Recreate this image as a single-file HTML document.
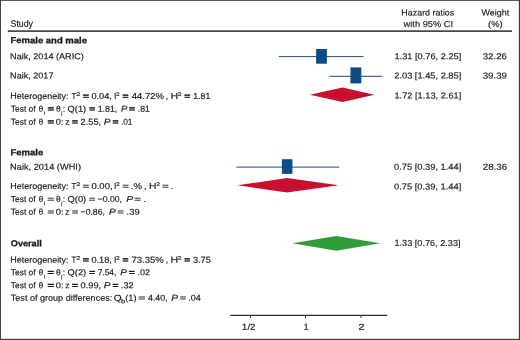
<!DOCTYPE html>
<html>
<head>
<meta charset="utf-8">
<title>Forest plot</title>
<style>
html,body{margin:0;padding:0;background:#fff;}
body{width:520px;height:340px;overflow:hidden;}
svg{display:block;will-change:transform;}
text{font-family:"Liberation Sans",sans-serif;font-size:8.6px;fill:#1a1a1a;stroke:#1a1a1a;stroke-width:0.16px;}
.b{font-weight:bold;stroke-width:0.3px;}
g[id^="g1"] .eq,g[id^="g3"] .eq{stroke-width:0.6px;}
#g3d .eq{stroke-width:0.16px;}
.subb{font-size:6px;}
.hs{font-size:9.3px;}
.i{font-style:italic;}
.sup{font-size:5.3px;}
.sub{font-size:5px;}
</style>
</head>
<body>
<svg width="520" height="340" viewBox="0 0 520 340">
  <rect x="0" y="0" width="520" height="340" fill="#ffffff"/>
  <!-- outer frame -->
  <g fill="#3c3c3c">
    <rect x="0" y="0" width="520" height="0.85"/>
    <rect x="0" y="338.85" width="520" height="1.15"/>
    <rect x="0" y="0" width="0.95" height="340"/>
    <rect x="518.85" y="0" width="1.15" height="340"/>
  </g>
  <!-- header rule -->
  <line x1="7.8" y1="31.15" x2="512" y2="31.15" stroke="#484848" stroke-width="1.6"/>
  <!-- plot: CI lines -->
  <g stroke="#30557f" stroke-width="1">
    <line x1="278.75" y1="56.6" x2="363.6" y2="56.6" stroke="#2c4a72"/>
    <line x1="329.5" y1="76.3" x2="382.25" y2="76.3" stroke="#456a96" stroke-width="1.25"/>
    <line x1="236.25" y1="167.2" x2="339.25" y2="167.2" stroke="#4d6f98" stroke-width="1.3"/>
  </g>
  <!-- plot: squares -->
  <g fill="#0e4c88">
    <rect x="316.1" y="49" width="10.8" height="14.7"/>
    <rect x="350.4" y="67.4" width="10.9" height="16"/>
    <rect x="281.9" y="159.2" width="10.5" height="14.7"/>
  </g>
  <!-- plot: diamonds -->
  <polygon points="309.9,94.8 342.5,87.5 374.4,94.8 342.5,102.1" fill="#c8102e"/>
  <polygon points="237.6,185.3 287,178 338.5,185.3 287,192.6" fill="#c8102e"/>
  <polygon points="292.3,243.35 336.25,236 380.1,243.35 336.25,250.75" fill="#2f9e3a"/>
  <!-- axis -->
  <g stroke="#2e2e2e" fill="none">
    <line x1="230.4" y1="315.3" x2="387.2" y2="315.3" stroke-width="1.3"/>
    <line x1="250.6" y1="315.3" x2="250.6" y2="318" stroke-width="1"/>
    <line x1="305.5" y1="315.3" x2="305.5" y2="318" stroke-width="1"/>
    <line x1="361" y1="315.3" x2="361" y2="318" stroke-width="1"/>
  </g>
  <!-- text -->
  <g id="h_study">
    <text id="h_study_0" class="hs" x="10.54" y="26.7" textLength="22.46" lengthAdjust="spacingAndGlyphs" transform="rotate(0.04 21.8 26.7)">Study</text>
  </g>
  <g id="h_hr1">
    <text id="h_hr1_0" x="401.39" y="15.6" textLength="52.87" lengthAdjust="spacingAndGlyphs" transform="rotate(0.04 427.8 15.6)">Hazard ratios</text>
  </g>
  <g id="h_hr2">
    <text id="h_hr2_0" x="403.60" y="26.9" textLength="49.52" lengthAdjust="spacingAndGlyphs" transform="rotate(0.04 428.4 26.9)">with 95% CI</text>
  </g>
  <g id="h_w1">
    <text id="h_w1_0" x="481.50" y="15.6" textLength="27.70" lengthAdjust="spacingAndGlyphs" transform="rotate(0.04 495.4 15.6)">Weight</text>
  </g>
  <g id="h_w2">
    <text id="h_w2_0" x="488.11" y="26.9" textLength="14.57" lengthAdjust="spacingAndGlyphs" transform="rotate(0.04 495.4 26.9)">(%)</text>
  </g>
  <g id="g1">
    <text id="g1_0" class="b" x="10.49" y="43.15" textLength="76.51" lengthAdjust="spacingAndGlyphs" transform="rotate(0.04 48.7 43.15)">Female and male</text>
  </g>
  <g id="s1">
    <text id="s1_0" x="10.09" y="59.25" textLength="73.72" lengthAdjust="spacingAndGlyphs" transform="rotate(0.04 46.9 59.25)">Naik, 2014 (ARIC)</text>
  </g>
  <g id="s2">
    <text id="s2_0" x="10.08" y="78.5" textLength="43.38" lengthAdjust="spacingAndGlyphs" transform="rotate(0.04 31.8 78.5)">Naik, 2017</text>
  </g>
  <g id="g1h">
    <text id="g1h_0" x="10.28" y="98.9" textLength="58.34" lengthAdjust="spacingAndGlyphs" transform="rotate(0.04 39.5 98.9)">Heterogeneity:</text>
    <text id="g1h_1" x="71.50" y="98.9" textLength="4.74" lengthAdjust="spacingAndGlyphs" transform="rotate(0.04 73.9 98.9)">T</text>
    <text id="g1h_2" class="sup" x="76.20" y="96.0" textLength="4.00" lengthAdjust="spacingAndGlyphs" transform="rotate(0.04 78.2 96.0)">2</text>
    <text id="g1h_3" class="eq" x="82.86" y="98.9" textLength="6.29" lengthAdjust="spacingAndGlyphs" transform="rotate(0.04 86.0 98.9)">=</text>
    <text id="g1h_4" x="91.43" y="98.9" textLength="20.51" lengthAdjust="spacingAndGlyphs" transform="rotate(0.04 101.7 98.9)">0.04,</text>
    <text id="g1h_5" x="113.90" y="98.9" transform="rotate(0.04 115.4 98.9)">I</text>
    <text id="g1h_6" class="sup" x="116.08" y="96.0" textLength="3.66" lengthAdjust="spacingAndGlyphs" transform="rotate(0.04 117.9 96.0)">2</text>
    <text id="g1h_7" class="eq" x="122.58" y="98.9" textLength="6.01" lengthAdjust="spacingAndGlyphs" transform="rotate(0.04 125.6 98.9)">=</text>
    <text id="g1h_8" x="131.80" y="98.9" textLength="32.16" lengthAdjust="spacingAndGlyphs" transform="rotate(0.04 147.9 98.9)">44.72%</text>
    <text id="g1h_9" x="165.75" y="98.9" transform="rotate(0.04 167.2 98.9)">,</text>
    <text id="g1h_10" x="170.51" y="98.9" textLength="7.71" lengthAdjust="spacingAndGlyphs" transform="rotate(0.04 174.4 98.9)">H</text>
    <text id="g1h_11" class="sup" x="177.71" y="96.0" textLength="3.76" lengthAdjust="spacingAndGlyphs" transform="rotate(0.04 179.6 96.0)">2</text>
    <text id="g1h_12" class="eq" x="184.27" y="98.9" textLength="6.00" lengthAdjust="spacingAndGlyphs" transform="rotate(0.04 187.3 98.9)">=</text>
    <text id="g1h_13" x="193.32" y="98.9" textLength="16.94" lengthAdjust="spacingAndGlyphs" transform="rotate(0.04 201.8 98.9)">1.81</text>
  </g>
  <g id="g1q">
    <text id="g1q_0" x="10.79" y="111.65" textLength="24.81" lengthAdjust="spacingAndGlyphs" transform="rotate(0.04 23.2 111.65)">Test of</text>
    <text id="g1q_1" x="38.85" y="111.65" textLength="4.43" lengthAdjust="spacingAndGlyphs" transform="rotate(0.04 41.1 111.65)">θ</text>
    <text id="g1q_2" class="sub" x="43.80" y="114.85" transform="rotate(0.04 45.3 114.85)">i</text>
    <text id="g1q_3" class="eq" x="47.53" y="111.65" textLength="6.58" lengthAdjust="spacingAndGlyphs" transform="rotate(0.04 50.8 111.65)">=</text>
    <text id="g1q_4" x="55.96" y="111.65" textLength="4.67" lengthAdjust="spacingAndGlyphs" transform="rotate(0.04 58.3 111.65)">θ</text>
    <text id="g1q_5" class="sub" x="61.20" y="114.85" transform="rotate(0.04 62.7 114.85)">j</text>
    <text id="g1q_6" x="62.75" y="111.65" transform="rotate(0.04 64.2 111.65)">:</text>
    <text id="g1q_7" x="67.58" y="111.65" textLength="18.64" lengthAdjust="spacingAndGlyphs" transform="rotate(0.04 76.9 111.65)">Q(1)</text>
    <text id="g1q_8" class="eq" x="89.27" y="111.65" textLength="6.00" lengthAdjust="spacingAndGlyphs" transform="rotate(0.04 92.3 111.65)">=</text>
    <text id="g1q_9" x="97.65" y="111.65" textLength="19.65" lengthAdjust="spacingAndGlyphs" transform="rotate(0.04 107.5 111.65)">1.81,</text>
    <text id="g1q_10" class="i" x="121.11" y="111.65" textLength="6.25" lengthAdjust="spacingAndGlyphs" transform="rotate(0.04 124.2 111.65)">P</text>
    <text id="g1q_11" class="eq" x="129.08" y="111.65" textLength="6.01" lengthAdjust="spacingAndGlyphs" transform="rotate(0.04 132.1 111.65)">=</text>
    <text id="g1q_12" x="137.74" y="111.65" textLength="12.25" lengthAdjust="spacingAndGlyphs" transform="rotate(0.04 143.9 111.65)">.81</text>
  </g>
  <g id="g1z">
    <text id="g1z_0" x="10.79" y="124.7" textLength="24.81" lengthAdjust="spacingAndGlyphs" transform="rotate(0.04 23.2 124.7)">Test of</text>
    <text id="g1z_1" x="38.85" y="124.7" textLength="4.43" lengthAdjust="spacingAndGlyphs" transform="rotate(0.04 41.1 124.7)">θ</text>
    <text id="g1z_2" class="eq" x="47.53" y="124.7" textLength="6.58" lengthAdjust="spacingAndGlyphs" transform="rotate(0.04 50.8 124.7)">=</text>
    <text id="g1z_3" x="55.85" y="124.7" textLength="7.78" lengthAdjust="spacingAndGlyphs" transform="rotate(0.04 59.7 124.7)">0:</text>
    <text id="g1z_4" x="65.24" y="124.7" textLength="4.28" lengthAdjust="spacingAndGlyphs" transform="rotate(0.04 67.4 124.7)">z</text>
    <text id="g1z_5" class="eq" x="72.08" y="124.7" textLength="6.01" lengthAdjust="spacingAndGlyphs" transform="rotate(0.04 75.1 124.7)">=</text>
    <text id="g1z_6" x="80.57" y="124.7" textLength="20.52" lengthAdjust="spacingAndGlyphs" transform="rotate(0.04 90.8 124.7)">2.55,</text>
    <text id="g1z_7" class="i" x="103.88" y="124.7" textLength="6.80" lengthAdjust="spacingAndGlyphs" transform="rotate(0.04 107.3 124.7)">P</text>
    <text id="g1z_8" class="eq" x="112.58" y="124.7" textLength="6.01" lengthAdjust="spacingAndGlyphs" transform="rotate(0.04 115.6 124.7)">=</text>
    <text id="g1z_9" x="120.88" y="124.7" textLength="11.54" lengthAdjust="spacingAndGlyphs" transform="rotate(0.04 126.7 124.7)">.01</text>
  </g>
  <g id="g2">
    <text id="g2_0" class="b" x="10.49" y="155.3" textLength="32.77" lengthAdjust="spacingAndGlyphs" transform="rotate(0.04 26.9 155.3)">Female</text>
  </g>
  <g id="s3">
    <text id="s3_0" x="10.09" y="169.75" textLength="70.92" lengthAdjust="spacingAndGlyphs" transform="rotate(0.04 45.5 169.75)">Naik, 2014 (WHI)</text>
  </g>
  <g id="g2h">
    <text id="g2h_0" x="10.28" y="189.0" textLength="58.34" lengthAdjust="spacingAndGlyphs" transform="rotate(0.04 39.5 189.0)">Heterogeneity:</text>
    <text id="g2h_1" x="71.50" y="189.0" textLength="4.74" lengthAdjust="spacingAndGlyphs" transform="rotate(0.04 73.9 189.0)">T</text>
    <text id="g2h_2" class="sup" x="76.20" y="186.1" textLength="4.00" lengthAdjust="spacingAndGlyphs" transform="rotate(0.04 78.2 186.1)">2</text>
    <text id="g2h_3" class="eq" x="82.61" y="189.0" textLength="6.79" lengthAdjust="spacingAndGlyphs" transform="rotate(0.04 86.0 189.0)">=</text>
    <text id="g2h_4" x="91.43" y="189.0" textLength="21.16" lengthAdjust="spacingAndGlyphs" transform="rotate(0.04 102.0 189.0)">0.00,</text>
    <text id="g2h_5" x="113.90" y="189.0" transform="rotate(0.04 115.4 189.0)">I</text>
    <text id="g2h_6" class="sup" x="116.08" y="186.1" textLength="3.66" lengthAdjust="spacingAndGlyphs" transform="rotate(0.04 117.9 186.1)">2</text>
    <text id="g2h_7" class="eq" x="122.36" y="189.0" textLength="6.76" lengthAdjust="spacingAndGlyphs" transform="rotate(0.04 125.7 189.0)">=</text>
    <text id="g2h_8" x="130.88" y="189.0" textLength="11.20" lengthAdjust="spacingAndGlyphs" transform="rotate(0.04 136.5 189.0)">.%</text>
    <text id="g2h_9" x="144.10" y="189.0" transform="rotate(0.04 145.6 189.0)">,</text>
    <text id="g2h_10" x="149.00" y="189.0" textLength="7.47" lengthAdjust="spacingAndGlyphs" transform="rotate(0.04 152.7 189.0)">H</text>
    <text id="g2h_11" class="sup" x="156.21" y="186.1" textLength="3.76" lengthAdjust="spacingAndGlyphs" transform="rotate(0.04 158.1 186.1)">2</text>
    <text id="g2h_12" class="eq" x="162.11" y="189.0" textLength="6.79" lengthAdjust="spacingAndGlyphs" transform="rotate(0.04 165.5 189.0)">=</text>
    <text id="g2h_13" x="170.75" y="189.0" transform="rotate(0.04 172.2 189.0)">.</text>
  </g>
  <g id="g2q">
    <text id="g2q_0" x="10.79" y="202.0" textLength="24.81" lengthAdjust="spacingAndGlyphs" transform="rotate(0.04 23.2 202.0)">Test of</text>
    <text id="g2q_1" x="38.85" y="202.0" textLength="4.43" lengthAdjust="spacingAndGlyphs" transform="rotate(0.04 41.1 202.0)">θ</text>
    <text id="g2q_2" class="sub" x="43.80" y="205.2" transform="rotate(0.04 45.3 205.2)">i</text>
    <text id="g2q_3" class="eq" x="47.26" y="202.0" textLength="7.14" lengthAdjust="spacingAndGlyphs" transform="rotate(0.04 50.8 202.0)">=</text>
    <text id="g2q_4" x="55.96" y="202.0" textLength="4.67" lengthAdjust="spacingAndGlyphs" transform="rotate(0.04 58.3 202.0)">θ</text>
    <text id="g2q_5" class="sub" x="61.20" y="205.2" transform="rotate(0.04 62.7 205.2)">j</text>
    <text id="g2q_6" x="62.75" y="202.0" transform="rotate(0.04 64.2 202.0)">:</text>
    <text id="g2q_7" x="67.58" y="202.0" textLength="18.64" lengthAdjust="spacingAndGlyphs" transform="rotate(0.04 76.9 202.0)">Q(0)</text>
    <text id="g2q_8" class="eq" x="88.78" y="202.0" textLength="6.75" lengthAdjust="spacingAndGlyphs" transform="rotate(0.04 92.2 202.0)">=</text>
    <text id="g2q_9" x="97.68" y="202.0" textLength="24.26" lengthAdjust="spacingAndGlyphs" transform="rotate(0.04 109.8 202.0)">−0.00,</text>
    <text id="g2q_10" class="i" x="126.24" y="202.0" textLength="6.92" lengthAdjust="spacingAndGlyphs" transform="rotate(0.04 129.7 202.0)">P</text>
    <text id="g2q_11" class="eq" x="134.36" y="202.0" textLength="6.76" lengthAdjust="spacingAndGlyphs" transform="rotate(0.04 137.7 202.0)">=</text>
    <text id="g2q_12" x="143.60" y="202.0" transform="rotate(0.04 145.1 202.0)">.</text>
  </g>
  <g id="g2z">
    <text id="g2z_0" x="10.79" y="214.75" textLength="24.81" lengthAdjust="spacingAndGlyphs" transform="rotate(0.04 23.2 214.75)">Test of</text>
    <text id="g2z_1" x="38.85" y="214.75" textLength="4.43" lengthAdjust="spacingAndGlyphs" transform="rotate(0.04 41.1 214.75)">θ</text>
    <text id="g2z_2" class="eq" x="47.26" y="214.75" textLength="7.14" lengthAdjust="spacingAndGlyphs" transform="rotate(0.04 50.8 214.75)">=</text>
    <text id="g2z_3" x="55.85" y="214.75" textLength="7.78" lengthAdjust="spacingAndGlyphs" transform="rotate(0.04 59.7 214.75)">0:</text>
    <text id="g2z_4" x="65.24" y="214.75" textLength="4.28" lengthAdjust="spacingAndGlyphs" transform="rotate(0.04 67.4 214.75)">z</text>
    <text id="g2z_5" class="eq" x="71.86" y="214.75" textLength="6.76" lengthAdjust="spacingAndGlyphs" transform="rotate(0.04 75.2 214.75)">=</text>
    <text id="g2z_6" x="80.58" y="214.75" textLength="24.35" lengthAdjust="spacingAndGlyphs" transform="rotate(0.04 92.8 214.75)">−0.86,</text>
    <text id="g2z_7" class="i" x="109.11" y="214.75" textLength="6.74" lengthAdjust="spacingAndGlyphs" transform="rotate(0.04 112.5 214.75)">P</text>
    <text id="g2z_8" class="eq" x="117.28" y="214.75" textLength="6.75" lengthAdjust="spacingAndGlyphs" transform="rotate(0.04 120.7 214.75)">=</text>
    <text id="g2z_9" x="126.54" y="214.75" textLength="13.09" lengthAdjust="spacingAndGlyphs" transform="rotate(0.04 133.1 214.75)">.39</text>
  </g>
  <g id="g3">
    <text id="g3_0" class="b" x="10.79" y="246.3" textLength="30.97" lengthAdjust="spacingAndGlyphs" transform="rotate(0.04 26.3 246.3)">Overall</text>
  </g>
  <g id="g3h">
    <text id="g3h_0" x="10.28" y="262.65" textLength="58.34" lengthAdjust="spacingAndGlyphs" transform="rotate(0.04 39.5 262.65)">Heterogeneity:</text>
    <text id="g3h_1" x="71.50" y="262.65" textLength="4.74" lengthAdjust="spacingAndGlyphs" transform="rotate(0.04 73.9 262.65)">T</text>
    <text id="g3h_2" class="sup" x="76.20" y="259.75" textLength="4.00" lengthAdjust="spacingAndGlyphs" transform="rotate(0.04 78.2 259.75)">2</text>
    <text id="g3h_3" class="eq" x="82.86" y="262.65" textLength="6.29" lengthAdjust="spacingAndGlyphs" transform="rotate(0.04 86.0 262.65)">=</text>
    <text id="g3h_4" x="91.43" y="262.65" textLength="20.51" lengthAdjust="spacingAndGlyphs" transform="rotate(0.04 101.7 262.65)">0.18,</text>
    <text id="g3h_5" x="113.90" y="262.65" transform="rotate(0.04 115.4 262.65)">I</text>
    <text id="g3h_6" class="sup" x="116.08" y="259.75" textLength="3.66" lengthAdjust="spacingAndGlyphs" transform="rotate(0.04 117.9 259.75)">2</text>
    <text id="g3h_7" class="eq" x="122.58" y="262.65" textLength="6.01" lengthAdjust="spacingAndGlyphs" transform="rotate(0.04 125.6 262.65)">=</text>
    <text id="g3h_8" x="131.53" y="262.65" textLength="32.08" lengthAdjust="spacingAndGlyphs" transform="rotate(0.04 147.6 262.65)">73.35%</text>
    <text id="g3h_9" x="165.75" y="262.65" transform="rotate(0.04 167.2 262.65)">,</text>
    <text id="g3h_10" x="170.51" y="262.65" textLength="7.71" lengthAdjust="spacingAndGlyphs" transform="rotate(0.04 174.4 262.65)">H</text>
    <text id="g3h_11" class="sup" x="177.71" y="259.75" textLength="3.76" lengthAdjust="spacingAndGlyphs" transform="rotate(0.04 179.6 259.75)">2</text>
    <text id="g3h_12" class="eq" x="184.27" y="262.65" textLength="6.00" lengthAdjust="spacingAndGlyphs" transform="rotate(0.04 187.3 262.65)">=</text>
    <text id="g3h_13" x="192.94" y="262.65" textLength="17.89" lengthAdjust="spacingAndGlyphs" transform="rotate(0.04 201.9 262.65)">3.75</text>
  </g>
  <g id="g3q">
    <text id="g3q_0" x="10.79" y="275.35" textLength="24.81" lengthAdjust="spacingAndGlyphs" transform="rotate(0.04 23.2 275.35)">Test of</text>
    <text id="g3q_1" x="38.85" y="275.35" textLength="4.43" lengthAdjust="spacingAndGlyphs" transform="rotate(0.04 41.1 275.35)">θ</text>
    <text id="g3q_2" class="sub" x="43.80" y="278.55" transform="rotate(0.04 45.3 278.55)">i</text>
    <text id="g3q_3" class="eq" x="47.53" y="275.35" textLength="6.58" lengthAdjust="spacingAndGlyphs" transform="rotate(0.04 50.8 275.35)">=</text>
    <text id="g3q_4" x="55.96" y="275.35" textLength="4.67" lengthAdjust="spacingAndGlyphs" transform="rotate(0.04 58.3 275.35)">θ</text>
    <text id="g3q_5" class="sub" x="61.20" y="278.55" transform="rotate(0.04 62.7 278.55)">j</text>
    <text id="g3q_6" x="62.75" y="275.35" transform="rotate(0.04 64.2 275.35)">:</text>
    <text id="g3q_7" x="67.58" y="275.35" textLength="18.64" lengthAdjust="spacingAndGlyphs" transform="rotate(0.04 76.9 275.35)">Q(2)</text>
    <text id="g3q_8" class="eq" x="89.27" y="275.35" textLength="6.00" lengthAdjust="spacingAndGlyphs" transform="rotate(0.04 92.3 275.35)">=</text>
    <text id="g3q_9" x="97.67" y="275.35" textLength="18.72" lengthAdjust="spacingAndGlyphs" transform="rotate(0.04 107.0 275.35)">7.54,</text>
    <text id="g3q_10" class="i" x="120.28" y="275.35" textLength="6.72" lengthAdjust="spacingAndGlyphs" transform="rotate(0.04 123.6 275.35)">P</text>
    <text id="g3q_11" class="eq" x="128.77" y="275.35" textLength="6.00" lengthAdjust="spacingAndGlyphs" transform="rotate(0.04 131.8 275.35)">=</text>
    <text id="g3q_12" x="137.41" y="275.35" textLength="12.57" lengthAdjust="spacingAndGlyphs" transform="rotate(0.04 143.7 275.35)">.02</text>
  </g>
  <g id="g3z">
    <text id="g3z_0" x="10.79" y="288.3" textLength="24.81" lengthAdjust="spacingAndGlyphs" transform="rotate(0.04 23.2 288.3)">Test of</text>
    <text id="g3z_1" x="38.85" y="288.3" textLength="4.43" lengthAdjust="spacingAndGlyphs" transform="rotate(0.04 41.1 288.3)">θ</text>
    <text id="g3z_2" class="eq" x="47.53" y="288.3" textLength="6.58" lengthAdjust="spacingAndGlyphs" transform="rotate(0.04 50.8 288.3)">=</text>
    <text id="g3z_3" x="55.85" y="288.3" textLength="7.78" lengthAdjust="spacingAndGlyphs" transform="rotate(0.04 59.7 288.3)">0:</text>
    <text id="g3z_4" x="65.24" y="288.3" textLength="4.28" lengthAdjust="spacingAndGlyphs" transform="rotate(0.04 67.4 288.3)">z</text>
    <text id="g3z_5" class="eq" x="72.08" y="288.3" textLength="6.01" lengthAdjust="spacingAndGlyphs" transform="rotate(0.04 75.1 288.3)">=</text>
    <text id="g3z_6" x="80.59" y="288.3" textLength="20.50" lengthAdjust="spacingAndGlyphs" transform="rotate(0.04 90.8 288.3)">0.99,</text>
    <text id="g3z_7" class="i" x="103.88" y="288.3" textLength="6.80" lengthAdjust="spacingAndGlyphs" transform="rotate(0.04 107.3 288.3)">P</text>
    <text id="g3z_8" class="eq" x="112.58" y="288.3" textLength="6.01" lengthAdjust="spacingAndGlyphs" transform="rotate(0.04 115.6 288.3)">=</text>
    <text id="g3z_9" x="120.87" y="288.3" textLength="12.80" lengthAdjust="spacingAndGlyphs" transform="rotate(0.04 127.3 288.3)">.32</text>
  </g>
  <g id="g3d">
    <text id="g3d_0" x="10.80" y="300.75" textLength="101.46" lengthAdjust="spacingAndGlyphs" transform="rotate(0.04 61.5 300.75)">Test of group differences:</text>
    <text id="g3d_1" x="113.86" y="300.75" textLength="7.88" lengthAdjust="spacingAndGlyphs" transform="rotate(0.04 117.8 300.75)">Q</text>
    <text id="g3d_2" class="subb" x="120.98" y="303.15" textLength="4.21" lengthAdjust="spacingAndGlyphs" transform="rotate(0.04 123.1 303.15)">b</text>
    <text id="g3d_3" x="125.29" y="300.75" textLength="11.14" lengthAdjust="spacingAndGlyphs" transform="rotate(0.04 130.9 300.75)">(1)</text>
    <text id="g3d_4" class="eq" x="138.21" y="300.75" textLength="7.17" lengthAdjust="spacingAndGlyphs" transform="rotate(0.04 141.8 300.75)">=</text>
    <text id="g3d_5" x="148.00" y="300.75" textLength="19.58" lengthAdjust="spacingAndGlyphs" transform="rotate(0.04 157.8 300.75)">4.40,</text>
    <text id="g3d_6" class="i" x="171.24" y="300.75" textLength="6.76" lengthAdjust="spacingAndGlyphs" transform="rotate(0.04 174.6 300.75)">P</text>
    <text id="g3d_7" class="eq" x="179.66" y="300.75" textLength="6.51" lengthAdjust="spacingAndGlyphs" transform="rotate(0.04 182.9 300.75)">=</text>
    <text id="g3d_8" x="188.24" y="300.75" textLength="12.53" lengthAdjust="spacingAndGlyphs" transform="rotate(0.04 194.5 300.75)">.04</text>
  </g>
  <g id="r1">
    <text id="r1_0" x="394.49" y="59.3" textLength="66.77" lengthAdjust="spacingAndGlyphs" transform="rotate(0.04 427.9 59.3)">1.31 [0.76, 2.25]</text>
  </g>
  <g id="r2">
    <text id="r2_0" x="394.25" y="78.5" textLength="67.01" lengthAdjust="spacingAndGlyphs" transform="rotate(0.04 427.8 78.5)">2.03 [1.45, 2.85]</text>
  </g>
  <g id="r3">
    <text id="r3_0" x="394.49" y="98.6" textLength="66.77" lengthAdjust="spacingAndGlyphs" transform="rotate(0.04 427.9 98.6)">1.72 [1.13, 2.61]</text>
  </g>
  <g id="r4">
    <text id="r4_0" x="394.00" y="169.8" textLength="67.26" lengthAdjust="spacingAndGlyphs" transform="rotate(0.04 427.6 169.8)">0.75 [0.39, 1.44]</text>
  </g>
  <g id="r5">
    <text id="r5_0" x="394.00" y="189.5" textLength="67.26" lengthAdjust="spacingAndGlyphs" transform="rotate(0.04 427.6 189.5)">0.75 [0.39, 1.44]</text>
  </g>
  <g id="r6">
    <text id="r6_0" x="394.49" y="245.9" textLength="66.02" lengthAdjust="spacingAndGlyphs" transform="rotate(0.04 427.5 245.9)">1.33 [0.76, 2.33]</text>
  </g>
  <g id="w1">
    <text id="w1_0" x="482.74" y="59.3" textLength="24.27" lengthAdjust="spacingAndGlyphs" transform="rotate(0.04 494.9 59.3)">32.26</text>
  </g>
  <g id="w2">
    <text id="w2_0" x="482.74" y="78.5" textLength="24.27" lengthAdjust="spacingAndGlyphs" transform="rotate(0.04 494.9 78.5)">39.39</text>
  </g>
  <g id="w3">
    <text id="w3_0" x="482.73" y="169.8" textLength="24.53" lengthAdjust="spacingAndGlyphs" transform="rotate(0.04 495.0 169.8)">28.36</text>
  </g>
  <g id="t1">
    <text id="t1_0" x="241.88" y="329.75" textLength="13.76" lengthAdjust="spacingAndGlyphs" transform="rotate(0.04 248.8 329.75)">1/2</text>
  </g>
  <g id="t2">
    <text id="t2_0" x="303.85" y="329.75" transform="rotate(0.04 305.4 329.75)">1</text>
  </g>
  <g id="t3">
    <text id="t3_0" x="358.15" y="329.75" textLength="6.43" lengthAdjust="spacingAndGlyphs" transform="rotate(0.04 361.4 329.75)">2</text>
  </g>
</svg>
</body>
</html>
